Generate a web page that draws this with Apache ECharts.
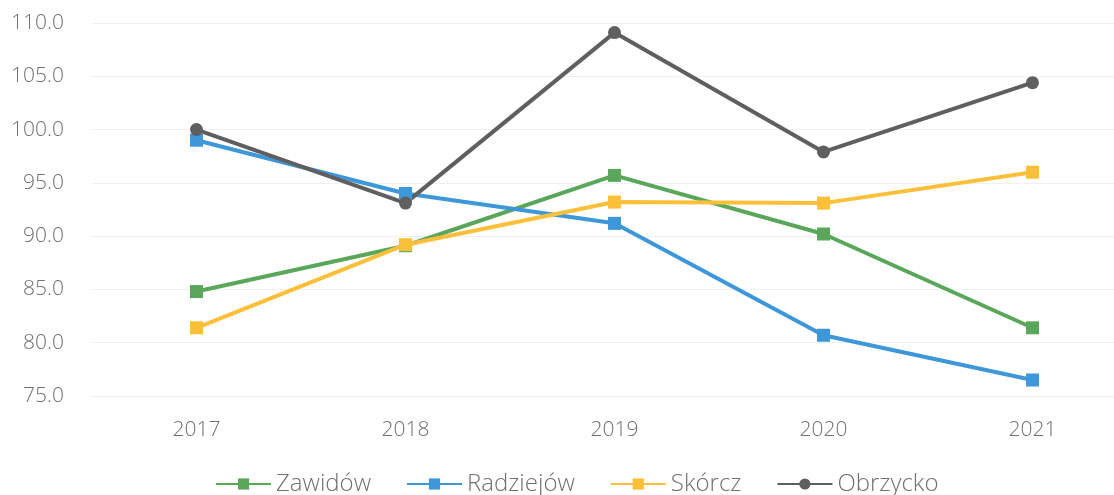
<!DOCTYPE html>
<html>
<head>
    <meta charset="utf-8">
    <script src="https://cdn.jsdelivr.net/npm/echarts@6/dist/echarts.min.js"></script>
    <style>
        html, body { margin: 0; padding: 0; background: #fff; }
    </style>
</head>
<body>
    <div id="main" style="width:1114px;height:495px"></div>
    <script type="text/javascript">
        // lata
        var years = ['2017', '2018', '2019', '2020', '2021'];
        // wartości
        var zawidow   = [84.8, 89.1, 95.7, 90.2, 81.4];
        var radziejow = [99.0, 94.0, 91.2, 80.7, 76.5];
        var skorcz    = [81.4, 89.2, 93.2, 93.1, 96.0];
        var obrzycko  = [100.0, 93.1, 109.1, 97.9, 104.4];

        var textColor = '#707070';
        var font = 'Open Sans';

        function serie(name, data, color, symbol) {
            return {
                name: name,
                type: 'line',
                data: data,
                symbol: symbol,
                symbolSize: 13,
                showAllSymbol: true,
                lineStyle: { width: 4, color: color },
                itemStyle: { color: color },
                emphasis: { disabled: true }
            };
        }

        var myChart = echarts.init(document.getElementById('main'));
        var option = {
            animation: false,
            grid: { left: 92, width: 1045, top: 23, bottom: 99, outerBoundsMode: 'none', containLabel: false },
            legend: {
                bottom: -1,
                left: 215,
                padding: 0,
                itemWidth: 55,
                itemHeight: 14,
                itemGap: 35,
                textStyle: { fontFamily: font, fontWeight: 300, fontSize: 24, color: textColor },
                data: ['Zawidów', 'Radziejów', 'Skórcz', 'Obrzycko']
            },
            xAxis: {
                type: 'category',
                data: years,
                boundaryGap: true,
                axisLine: { show: false },
                axisTick: { show: false },
                axisLabel: { margin: 24, fontFamily: font, fontWeight: 300, fontSize: 21, color: textColor }
            },
            yAxis: {
                type: 'value',
                min: 75,
                max: 110,
                interval: 5,
                axisLine: { show: false },
                axisTick: { show: false },
                splitLine: { lineStyle: { color: '#f0f0f0', width: 1 } },
                axisLabel: {
                    margin: 28,
                    fontFamily: font,
                    fontWeight: 300,
                    fontSize: 21,
                    color: textColor,
                    formatter: function (v) { return v.toFixed(1); }
                }
            },
            series: [
                serie('Zawidów', zawidow, '#5aa75c', 'rect'),
                serie('Radziejów', radziejow, '#3d97d8', 'rect'),
                serie('Skórcz', skorcz, '#fcbf3a', 'rect'),
                serie('Obrzycko', obrzycko, '#5f5f5f', 'circle')
            ]
        };
        myChart.setOption(option);
    </script>
</body>
</html>
